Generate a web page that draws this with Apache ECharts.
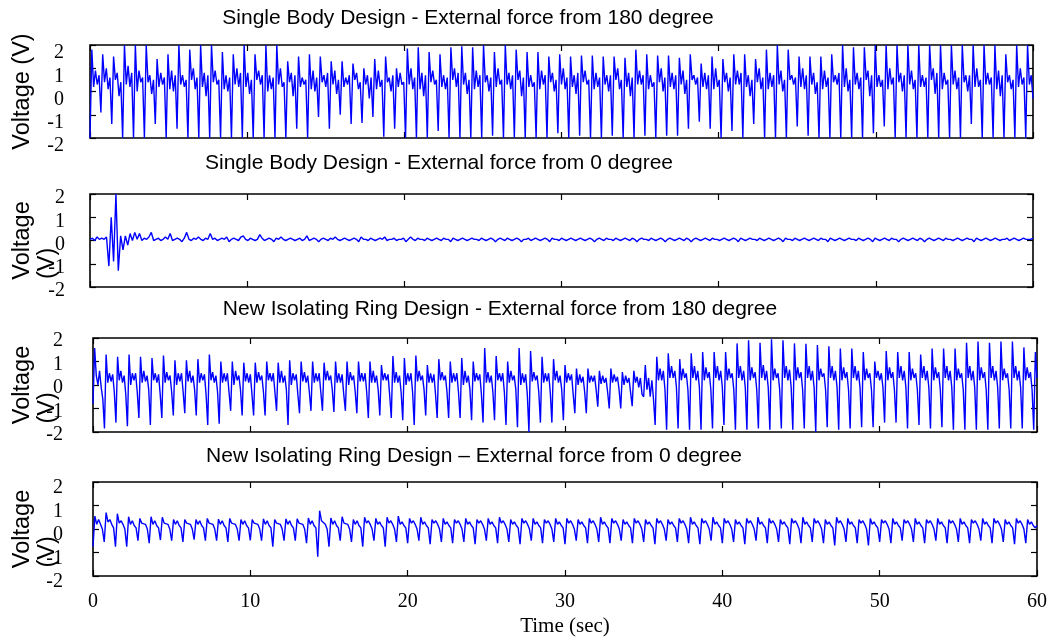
<!DOCTYPE html>
<html>
<head>
<meta charset="utf-8">
<script src="https://cdn.jsdelivr.net/npm/echarts@6/dist/echarts.min.js"></script>
<style>html,body{margin:0;padding:0;background:#fff}#c{width:1053px;height:640px}</style>
</head>
<body>
<div id="c"></div>
<script>
// ---- data (voltage samples, evenly spaced over 0..60 s) ----
const T_MAX = 60;
const xTicks = [0, 10, 20, 30, 40, 50, 60];
const yTicks = [-2, -1, 0, 1, 2];
const titles = [
  'Single Body Design - External force from 180 degree',
  'Single Body Design - External force from 0 degree',
  'New Isolating Ring Design - External force from 180 degree',
  'New Isolating Ring Design \u2013 External force from 0 degree'
];
const single180 = [
-2,1.8,.2,.9,.3,.7, -.9,1.6,.4,1,.1,.6, -1.4,1.5,.5,.8,-.2,.4, -2,2,.3,1.1,.2,.8, -2,2,0,.9,.4,.6,
-2,2,.4,.7,-.1,.5, -1.4,1.4,.2,.8,.3,.6, -2,1.6,.1,.9,0,.7, -1.6,2,.3,.7,.2,.5, -2,1.8,.5,1,.1,.6,
-2,2,.2,.8,-.2,.7, -2,2,.4,.9,.3,.5, -2,1.7,.1,.7,0,.6, -2,1.6,.3,1,.2,.8, -2,2,.2,.8,-.1,.5,
-2,1.6,.5,.9,.3,.7, -2,2,0,.7,.1,.6, -2,2,.3,1,.2,.4, -2,1.3,.4,.8,-.2,.7, -1.6,1.5,.2,.6,.3,.5,
-2,1.6,.1,.9,0,.6, -1.1,1.5,.4,.7,.2,.8, -1.6,1.3,.3,.9,-.1,.5, -1,1.3,.2,.6,.3,.7, -1.4,1.2,.5,.8,.1,.4,
-1.35,1,.3,.7,-.3,.6, -1.1,1.4,.1,.9,.2,.5, -1.95,1.5,.4,.6,0,.7, -1.6,1,.2,.8,.3,.4, -2,1.85,.3,1,.1,.6,
-2,1.9,.1,.8,-.2,.7, -2,1.7,.4,.9,.3,.5, -1.7,1.6,.2,.7,.1,.6, -2,1.9,.5,1,.2,.8, -2,1.95,.3,.8,-.1,.5,
-2,1.9,.1,.9,.2,.7, -2,2,.4,.7,0,.6, -1.9,1.7,.2,1,.3,.5, -2,2,.3,.8,.1,.7, -2,1.8,.5,.9,-.2,.6,
-2,1.7,.2,.7,.2,.4, -2,1.7,.1,.9,.3,.7, -2,1.5,.4,.8,0,.5, -1.8,1.6,.3,1,.1,.6, -2,1.5,.2,.7,-.1,.8,
-1.9,1.55,.4,.9,.3,.5, -2,1.55,.1,.8,.2,.6, -2,1.5,.3,.7,0,.7, -1.9,1.5,.5,1,.1,.5, -2,1.45,.2,.8,-.2,.6,
-2,1.8,.3,.9,.3,.7, -1.9,1.6,.1,.7,.2,.4, -2,1.55,.4,1,0,.6, -1.9,1.55,.2,.8,.1,.7, -1.9,1.45,.3,.9,-.1,.5,
-1.6,1.6,.5,.7,.3,.6, -1.3,1.2,.2,.8,.1,.7, -1.6,1.5,.1,1,.2,.5, -2,1.4,.4,.8,0,.6, -1.7,1.6,.3,.9,.3,.8,
-2,1.6,.2,.7,-.2,.5, -1.4,1.4,.4,1,.1,.6, -2,1.8,.1,.8,.2,.7, -2,2,.3,.9,0,.5, -2,1.8,.5,.7,.3,.6,
-1.5,1.5,.2,1,.1,.7, -1.9,1.5,.3,.8,-.1,.4, -2,1.5,.1,.9,.2,.6, -2,1.6,.4,.7,.3,.8, -2,2,.2,1,0,.5,
-2,1.9,.3,.8,.1,.6, -2,1.9,.5,.9,-.2,.7, -1.8,2,.2,.7,.2,.5, -1.5,2,.1,1,.3,.6, -2,2,.4,.8,0,.7,
-2,2,.3,.9,.1,.5, -2,2,.2,.7,.2,.6, -2,2,.5,1,-.1,.8, -2,2,.1,.8,.3,.5, -2,2,.3,.9,.1,.6,
-2,2,.4,.7,0,.7, -1.4,2,.2,1,.2,.5, -2,2,.3,.8,.3,.6, -2,2,.1,.9,-.2,.7, -2,1.6,.4,.7,.1,.5,
-2,2,.2,1,.3,.6, -2,2,.3,.7,-.3
];
const single0 = [
.05,.1,0,.15,.05,.1,.05,.15,
-1.1,1,-.9,2,-1.3,.2,-.4,.2,-.2,.3,
0,.35,.05,.3,0,.1,.05,.15,.35,0,
.05,.1,0,.05,.15,.05,.3,0,.05,.1,.05,-.05,.1,.35,.05,0,.1,.05,.15,.05,
0,.1,.05,.3,.05,.1,0,.05,.1,.05,.15,-.05,.05,.1,.05,0,.15,.2,.05,0,
.1,.05,0,.05,.25,.1,0,.05,.1,.05,-.05,.1,.05,.15,.05,0,.05,.1,.05,0,
.05,.1,0,.05,.2,0,.05,.1,.05,-.05,.05,.1,.05,0,.1,.05,.15,.05,0,.05,
.1,.05,0,.05,.1,.05,-.05,.15,.05,.05,0,.1,.05,0,.05,.1,.05,.15,0,.05,
.05,.1,0,.05,.05,.1,-.05,.05,.15,.05,0,.1,.05,.05,0,.1,.05,0,.05,.1,
.05,0,.1,.05,.05,-.05,.1,.05,0,.05,.1,.05,0,.05,.1,.05,.05,0,.1,.05,
0,.05,.1,.05,-.05,.05,.1,.05,0,.1,.05,0,.05,.1,.05,-.05,.05,.05,.1,0,
.05,.1,.05,0,.05,.1,.05,-.05,.1,.05,.05,0,.1,.05,0,.05,.1,.05,0,.05,
.1,.05,0,.05,.1,.05,-.05,.05,.1,.05,0,.1,.05,.05,0,.1,.05,0,.05,.1,
.05,0,.1,.05,-.05,.05,.1,.05,.05,0,.1,.05,0,.05,.1,.05,-.05,.05,.1,.05,
0,.05,.1,.05,0,.1,.05,-.05,.05,.1,.05,0,.05,.1,.05,0,.1,.05,.05,0,
.05,.1,.05,0,.05,.1,.05,-.05,.1,.05,0,.05,.1,.05,.05,0,.1,.05,0,.05,
.1,.05,0,.05,.1,.05,-.05,.1,.05,.05,0,.1,.05,0,.05,.1,.05,0,.05,.1,
.05,0,.1,.05,.05,-.05,.1,.05,0,.05,.1,.05,0,.05,.1,.05,.05,0,.1,.05,
0,.05,.1,.05,-.05,.1,.05,0,.05,.1,.05,0,.1,.05,.05,-.05,.05,.1,.05,0,
.05,.1,.05,0,.1,.05,-.05,.05,.1,.05,0,.05,.1,.05,0,.1,.05,.05,0,.05,
.1,.05,0,.05,.1,.05,.05,-.05,.1,.05,0,.05,.1,.05,0,.05,.1,.05,0,.05,
.05,.1,0,.05,.1,.05,0,.05,.1,.05,.05,.05,.1
];
const ring180 = [
-.8,1.57,.4,0,.6,-.1,-.6, -1.85,1.3,.1,.5,.15,.45,-.3, -1.6,1.2,.2,.6,.1,.4,-.4, -1.75,1.3,0,.5,.2,.5,-.3,
-1.4,1.2,.1,.6,.15,.4,-.2, -1.7,1.15,.2,.5,.1,.45,-.4, -1.4,1.25,.1,.55,.2,.4,-.3, -1.3,1.05,0,.5,.15,.5,-.3,
-1.2,1.05,.15,.6,.1,.4,-.2, -1.3,1.1,.1,.5,.2,.45,-.4, -1.7,1.3,.2,.55,.1,.4,-.3, -1.65,1,.1,.5,.15,.5,-.3,
-1.1,1,0,.6,.2,.4,-.2, -1.3,.95,.15,.5,.1,.45,-.4, -1.3,.95,.1,.55,.2,.4,-.3, -1.3,1,.2,.5,.15,.5,-.3,
-1.1,.95,.1,.6,.1,.4,-.2, -1.7,1.05,0,.5,.2,.45,-.4, -1.2,1,.15,.55,.1,.4,-.3, -1.1,1,.1,.5,.15,.5,-.3,
-1.1,.95,.2,.6,.2,.4,-.2, -1.15,1,.1,.5,.1,.45,-.4, -1.1,1,0,.55,.2,.4,-.3, -1.2,1,.15,.5,.15,.5,-.3,
-1.4,1,.1,.6,.1,.4,-.2, -1.3,.85,.2,.5,.2,.45,-.4, -1.4,1.23,.1,.55,.1,.4,-.3, -1.5,1.15,0,.5,.15,.5,-.3,
-1.7,1.25,.15,.6,.2,.4,-.2, -1.3,.85,.1,.5,.1,.45,-.4, -1.4,1.1,.2,.55,.2,.4,-.3, -1.4,1,.1,.5,.15,.5,-.3,
-1.4,1.15,0,.6,.1,.4,-.2, -1.5,1,.15,.5,.2,.45,-.4, -1.6,1.57,.1,.55,.1,.4,-.3, -1.5,1.23,.2,.5,.15,.5,-.3,
-1.7,1,.1,.6,.2,.4,-.2, -1.8,1.57,0,.5,.1,.45,-.4, -2,1.45,.15,.55,.2,.4,-.3, -1.6,1.2,.1,.5,.15,.5,-.3,
-1.6,1.1,.2,.6,.1,.4,-.2, -1.5,.85,.1,.5,.2,.45,-.4, -1.2,.7,0,.45,.1,.35,-.3, -1.2,.7,.1,.4,.15,.4,-.2,
-.92,.6,.05,.4,.1,.3,-.3, -1,.7,.1,.45,.15,.35,-.2, -1,.55,0,.4,.1,.3,-.3, -.9,.6,.1,.35,-.1,.3,-.4,
-.5,.85,-.2,.3,-.5,.2,-.6, -1.7,1.2,.2,.7,.2,.6,-.2, -1.9,1.35,.3,.8,.3,.6,-.1, -1.85,1.1,.2,.7,.3,.5,-.2,
-1.9,1.35,.3,.8,.2,.6,-.1, -1.9,1.4,.2,.75,.3,.55,-.2, -1.85,1.4,.3,.8,.2,.6,-.1, -1.7,1.4,.2,.7,.3,.5,-.2,
-1.9,1.77,.3,.8,.2,.6,-.1, -1.9,1.9,.2,.75,.3,.55,-.2, -1.85,1.8,.3,.85,.2,.6,-.1, -1.9,1.95,.2,.7,.3,.5,-.2,
-1.85,1.9,.3,.8,.2,.65,-.1, -1.9,1.77,.2,.75,.3,.55,-.2, -1.85,1.75,.3,.8,.2,.6,-.1, -2,1.7,.2,.7,.35,.5,-.2,
-1.8,1.65,.3,.8,.2,.6,-.1, -1.9,1.55,.2,.75,.3,.55,-.2, -1.85,1.55,.3,.8,.2,.6,-.1, -1.8,1.4,.2,.7,.3,.5,-.2,
-1.8,1,.3,.6,.2,.5,-.1, -1.6,1.45,.2,.75,.3,.55,-.2, -1.6,1.4,.3,.8,.2,.6,-.1, -1.85,1.4,.2,.7,.3,.5,-.2,
-1.7,1.3,.3,.8,.2,.6,-.1, -1.85,1.55,.2,.75,.3,.55,-.2, -1.8,1.55,.3,.8,.2,.6,-.1, -1.9,1.55,.2,.7,.3,.5,-.2,
-1.9,1.8,.3,.8,.2,.6,-.1, -1.9,1.85,.2,.75,.3,.55,-.2, -1.9,1.8,.3,.8,.2,.6,-.1, -1.85,1.85,.2,.7,.3,.5,-.2,
-1.85,1.85,.3,.8,.2,.6,-.1, -1.85,1.6,.2,.75,.3,.55,-.2, -1.9,1.4,.3
];
const ring0 = [
-.75,.55,.2,.4,.2,0, -.55,.7,.3,.4,.2,.05, -.75,.65,.25,.35,.2,0, -.75,.52,.2,.35,.15,.05, -.5,.45,.25,.3,.2,0,
-.6,.52,.2,.35,.15,.05, -.47,.5,.25,.3,.2,0, -.5,.4,.2,.35,.15,.05, -.55,.4,.25,.3,.2,0, -.45,.4,.2,.35,.15,.05,
-.5,.45,.25,.3,.2,0, -.5,.42,.2,.35,.15,.05, -.55,.45,.25,.3,.2,0, -.5,.4,.2,.35,.15,.05, -.48,.4,.25,.3,.2,0,
-.5,.43,.2,.35,.15,.05, -.75,.4,.25,.3,.2,0, -.5,.43,.2,.35,.15,.05, -.5,.43,.25,.3,.2,0, -.6,.47,.2,.35,.15,.05,
-1.18,.78,.35,.4,.2,0, -.75,.47,.2,.35,.15,.05, -.5,.52,.25,.3,.2,0, -.55,.4,.2,.35,.15,.05, -.75,.5,.25,.35,.2,0,
-.5,.45,.2,.3,.15,.05, -.75,.5,.25,.35,.2,0, -.55,.55,.2,.3,.15,.05, -.6,.45,.25,.35,.2,0, -.5,.5,.2,.3,.15,.05,
-.65,.4,.25,.35,.2,0, -.55,.45,.2,.3,.15,.05, -.6,.4,.25,.35,.2,0, -.55,.45,.2,.3,.15,.05, -.65,.4,.25,.35,.2,0,
-.5,.45,.2,.3,.15,.05, -.6,.5,.25,.35,.2,0, -.55,.4,.2,.3,.15,.05, -.65,.45,.25,.35,.2,0, -.5,.45,.2,.3,.15,.05,
-.6,.4,.25,.35,.2,0, -.55,.45,.2,.3,.15,.05, -.65,.45,.25,.35,.2,0, -.5,.4,.2,.3,.15,.05, -.6,.45,.25,.35,.2,0,
-.55,.5,.2,.3,.15,.05, -.6,.45,.25,.35,.2,0, -.5,.4,.2,.3,.15,.05, -.6,.45,.25,.35,.2,0, -.55,.4,.2,.3,.15,.05,
-.65,.45,.25,.35,.2,0, -.5,.4,.2,.3,.15,.05, -.55,.45,.25,.35,.2,0, -.6,.5,.2,.3,.15,.05, -.65,.45,.25,.35,.2,0,
-.5,.5,.2,.3,.15,.05, -.6,.45,.25,.35,.2,0, -.55,.4,.2,.3,.15,.05, -.65,.45,.25,.35,.2,0, -.5,.5,.2,.3,.15,.05,
-.6,.45,.25,.35,.2,0, -.55,.4,.2,.3,.15,.05, -.65,.45,.25,.35,.2,0, -.6,.5,.2,.3,.15,.05, -.55,.45,.25,.35,.2,0,
-.6,.4,.2,.3,.15,.05, -.7,.5,.25,.35,.2,0, -.55,.45,.2,.3,.15,.05, -.6,.4,.25,.35,.2,0, -.7,.45,.2,.3,.15,.05,
-.55,.4,.25,.35,.2,0, -.6,.45,.2,.3,.15,.05, -.5,.4,.25,.35,.2,0, -.55,.45,.2,.3,.15,.05, -.6,.4,.25,.35,.2,0,
-.5,.45,.2,.3,.15,.05, -.6,.4,.25,.35,.2,0, -.55,.45,.2,.3,.15,.05, -.6,.4,.25,.35,.2,0, -.5,.45,.2,.3,.15,.05,
-.6,.45,.25,.35,.2,0, -.55,.4,.2,.3,.15,.05, -.65,.45,.25,.35,.2,0, -.6,.4,.2,.3,.15,.05, .15
];
const panels = [single180, single0, ring180, ring0];

// ---- layout / style ----
const SANS = '"Liberation Sans", Arial, sans-serif';
const SERIF = '"Liberation Serif", "Times New Roman", serif';
const grids = [
  {left: 90, top: 45, width: 943, height: 93},
  {left: 90, top: 194, width: 943, height: 93},
  {left: 93, top: 338, width: 944, height: 94},
  {left: 93, top: 482, width: 944, height: 94}
];
const labelShift = [16, 8, 6, 12];
const labelMargin = [26, 25, 30, 30];
const nameGaps = [55, 30, 33, 33];
const titlePos = [[468, 18], [439, 163], [500, 309], [474, 456]];
const NB = '\u00a0';
const yNames = ['Voltage (V)',
  'Voltage\n(V)' + NB.repeat(7),
  'Voltage\n(V)' + NB.repeat(7),
  'Voltage\n(V)' + NB.repeat(7)];

function toPairs(vals) {
  const n = vals.length;
  return vals.map((v, i) => [i * T_MAX / (n - 1), v]);
}

const xAxis = [], yAxis = [], series = [], graphic = [];
grids.forEach((g, i) => {
  const tick = {show: true, inside: true, length: 6, lineStyle: {color: '#000', width: 1.2}};
  const line = {show: false, onZero: false};
  const base = {gridIndex: i, type: 'value', min: xTicks[0], max: xTicks[xTicks.length - 1],
    interval: xTicks[1] - xTicks[0], axisLine: line, splitLine: {show: false}, axisTick: tick};
  xAxis.push(Object.assign({}, base, {
    position: 'bottom',
    axisLabel: {show: i === 3, fontFamily: SERIF, fontSize: 20, color: '#000', margin: 16},
    name: i === 3 ? 'Time (sec)' : '', nameLocation: 'middle', nameGap: 40, nameMoveOverlap: false,
    nameTextStyle: {fontFamily: SERIF, fontSize: 21, color: '#000'}
  }));
  xAxis.push(Object.assign({}, base, {position: 'top', axisLabel: {show: false}}));
  const ybase = {gridIndex: i, type: 'value', min: yTicks[0], max: yTicks[yTicks.length - 1],
    interval: yTicks[1] - yTicks[0], axisLine: line, splitLine: {show: false}, axisTick: tick};
  yAxis.push(Object.assign({}, ybase, {
    position: 'left',
    axisLabel: {margin: labelMargin[i],
      formatter: v => '{s|' + v + '}',
      rich: {s: {fontFamily: SERIF, fontSize: 20, color: '#000', padding: [labelShift[i], 0, 0, 0]}}},
    name: yNames[i],
    nameLocation: 'middle', nameRotate: 90,
    nameGap: nameGaps[i], nameMoveOverlap: false,
    nameTextStyle: {fontFamily: SANS, fontSize: 23.5, color: '#000', lineHeight: 25}
  }));
  yAxis.push(Object.assign({}, ybase, {position: 'right', axisLabel: {show: false}}));
  series.push({
    type: 'line', xAxisIndex: 2 * i, yAxisIndex: 2 * i, data: toPairs(panels[i]),
    showSymbol: false, symbol: 'none', lineStyle: {color: '#0000ff', width: 1.4},
    itemStyle: {color: '#0000ff'}, clip: true, animation: false
  });
  graphic.push({type: 'text', x: titlePos[i][0], y: titlePos[i][1],
    style: {text: titles[i], fill: '#000', font: '21px ' + SANS, textAlign: 'center', textVerticalAlign: 'middle'}});
});

const chart = echarts.init(document.getElementById('c'), null, {renderer: 'canvas'});
chart.setOption({
  animation: false,
  backgroundColor: '#fff',
  grid: grids.map(g => Object.assign({show: true, borderColor: '#000', borderWidth: 1.6,
    backgroundColor: 'transparent', containLabel: false, outerBoundsMode: 'none'}, g)),
  xAxis, yAxis, series, graphic
});
</script>
</body>
</html>
